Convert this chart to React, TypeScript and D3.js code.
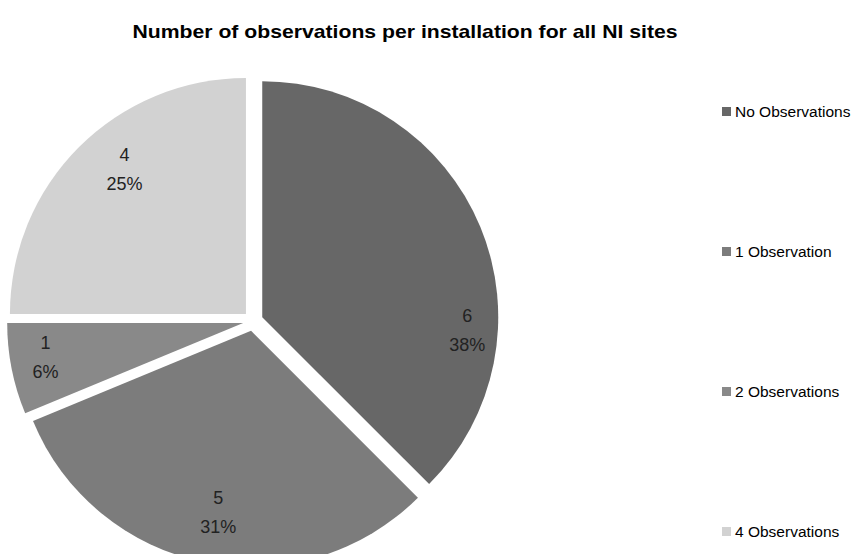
import React from "react";
import * as d3 from "d3";

const categories = ["No Observations", "1 Observation", "2 Observations", "4 Observations"];
const values = [6, 5, 1, 4];
const percentLabels = ["38%", "31%", "6%", "25%"];
const colors = ["#676767", "#7c7c7c", "#898989", "#d2d2d2"];
// label placement: angle offset (deg) from slice bisector, radius fraction
const labelPlacement: [number, number][] = [[26, 0.87], [-1, 0.78], [1.5, 0.85], [5, 0.8]];

const W = 853;
const H = 554;
const cx = 253;
const cy = 321;
const R = 236;
const explode = 10;

export default function App() {
  const pie = d3.pie<number>().sort(null).value((d) => d);
  const arcs = pie(values);
  const arcGen = d3.arc<d3.PieArcDatum<number>>().innerRadius(0).outerRadius(R);
  const legendY = d3.scalePoint<string>().domain(categories).range([112, 532]);

  return (
    <svg width={W} height={H} style={{ position: "absolute", left: 0, top: 0, background: "#fff" }}>
      <text
        x={405}
        y={38}
        textAnchor="middle"
        fontFamily="'Liberation Sans', Arial, sans-serif"
        fontWeight="bold"
        fontSize={19}
        textLength={545}
        lengthAdjust="spacingAndGlyphs"
        fill="#000"
      >
        Number of observations per installation for all NI sites
      </text>
      {arcs.map((a, i) => {
        const mid = (a.startAngle + a.endAngle) / 2;
        const ox = Math.sin(mid) * explode;
        const oy = -Math.cos(mid) * explode;
        const [ang, rf] = labelPlacement[i];
        const la = mid + (ang * Math.PI) / 180;
        const lx = Math.sin(la) * R * rf;
        const ly = -Math.cos(la) * R * rf;
        return (
          <g key={i} transform={`translate(${cx + ox},${cy + oy})`}>
            <path d={arcGen(a) || ""} fill={colors[i]} />
            <text x={lx} y={ly - 8} textAnchor="middle" fontFamily="'Liberation Sans', Arial, sans-serif" fontSize={18} fill="#222">
              {values[i]}
            </text>
            <text x={lx} y={ly + 21} textAnchor="middle" fontFamily="'Liberation Sans', Arial, sans-serif" fontSize={18} fill="#222">
              {percentLabels[i]}
            </text>
          </g>
        );
      })}
      {categories.map((c, i) => (
        <g key={c} transform={`translate(722,${legendY(c)})`}>
          <rect x={0} y={-5} width={9} height={9} fill={colors[i]} />
          <text x={13} y={5} fontFamily="'Liberation Sans', Arial, sans-serif" fontSize={15.5} fill="#000">
            {c}
          </text>
        </g>
      ))}
    </svg>
  );
}
